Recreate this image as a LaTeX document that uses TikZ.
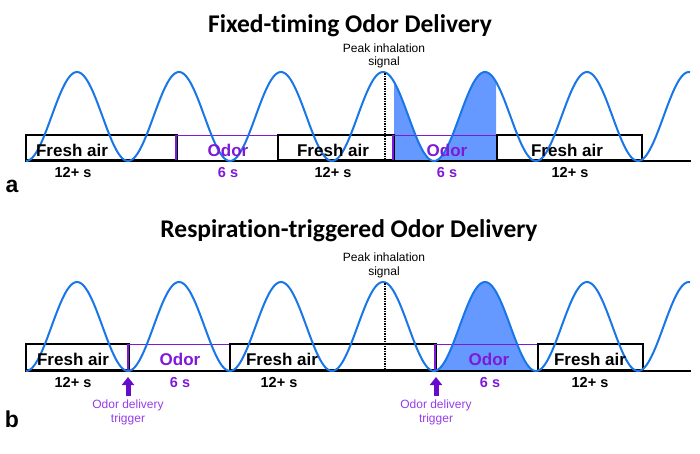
\documentclass[tikz,border=0pt]{standalone}
\usepackage{fontspec}
\setmainfont{Liberation Sans}
\newfontfamily\titlefont[Ligatures=NoCommon]{Carlito}
\usetikzlibrary{arrows.meta}
\definecolor{waveblue}{RGB}{25,118,232}
\definecolor{fillblue}{RGB}{102,153,255}
\definecolor{odorpurple}{RGB}{125,25,215}
\definecolor{trigpurple}{RGB}{150,60,235}
\definecolor{arrowpurple}{RGB}{102,10,204}
\begin{document}
\begin{tikzpicture}[x=1pt,y=-1pt,
  wave/.style={waveblue, line width=2pt},
  airbox/.style={draw=black, line width=1.7pt, minimum height=25pt, inner sep=0pt, anchor=south west},
  odorbox/.style={minimum height=25pt, inner sep=0pt, anchor=south west},
  odoredge/.style={odorpurple, line width=1.7pt},
  baseln/.style={black, line width=1.7pt},
  airtxt/.style={font=\bfseries\fontsize{17}{19}\selectfont, anchor=base, inner sep=0pt},
  odortxt/.style={airtxt, text=odorpurple},
  airdur/.style={font=\bfseries\fontsize{14.5}{16}\selectfont, anchor=base, inner sep=0pt},
  odordur/.style={airdur, text=odorpurple},
  titletxt/.style={font=\titlefont\bfseries\fontsize{25.5}{28}\selectfont, anchor=base, inner sep=0pt},
  peaktxt/.style={font=\fontsize{12}{13.5}\selectfont, align=center, inner sep=0pt},
  trigtxt/.style={font=\fontsize{12}{14}\selectfont, align=center, text=trigpurple, inner sep=0pt, anchor=north},
  trigarrow/.style={arrowpurple, line width=5pt, -{Triangle[width=12pt,length=8pt]}},
  peakline/.style={densely dotted, line width=1.5pt},
  paneltxt/.style={font=\bfseries\fontsize{23}{26}\selectfont, anchor=base, inner sep=0pt},
]
\useasboundingbox (0,0) rectangle (700,453);

% ================= Panel a =================
\node[titletxt] (ta) at (350,32) {Fixed-timing Odor Delivery};
\node[peaktxt] (pa) at (384,56) {Peak inhalation\\signal};

\fill[fillblue] (394,161) -- plot[domain=394:496,samples=120] (\x,{116.5+44.5*cos((\x-26)/102*360)}) -- (496,161) -- cycle;

\node[airbox, minimum width=151pt] (af1) at (25,161) {};
\node[odorbox, minimum width=101pt] (ao1) at (176,161) {};
\node[airbox, minimum width=116pt] (af2) at (277,161) {};
\node[odorbox, minimum width=103pt] (ao2) at (393,161) {};
\node[airbox, minimum width=145pt] (af3) at (496,161) {};
\draw[odoredge] (ao1.south west) -- (ao1.north west) -- (ao1.north east);
\draw[odoredge] (ao2.south west) -- (ao2.north west) -- (ao2.north east);
\coordinate (aend) at (691,161);
\draw[baseln] (af1.south west) -- (aend);

\draw[wave] plot[domain=26:690,samples=400] (\x,{116.5+44.5*cos((\x-26)/102*360)});

\coordinate (apk) at (385,73);
\coordinate (abt) at (385,163);
\draw[peakline] (apk) -- (abt);

\node[airtxt] (laf1) at (72,156) {Fresh air};
\node[odortxt] (lao1) at (228,156) {Odor};
\node[airtxt] (laf2) at (333,156) {Fresh air};
\node[odortxt] (lao2) at (447,156) {Odor};
\node[airtxt] (laf3) at (567,156) {Fresh air};

\node[airdur] (daf1) at (73,177) {12+ s};
\node[odordur] (dao1) at (228,177) {6 s};
\node[airdur] (daf2) at (333,177) {12+ s};
\node[odordur] (dao2) at (447,177) {6 s};
\node[airdur] (daf3) at (570,177) {12+ s};

\node[paneltxt] (pla) at (12,192) {a};

% ================= Panel b =================
\node[titletxt] (tb) at (349,237) {Respiration-triggered Odor Delivery};
\node[peaktxt] (pb) at (384,265.5) {Peak inhalation\\signal};

\fill[fillblue] (434,371) -- plot[domain=434:536,samples=120] (\x,{326.5+44.5*cos((\x-26)/102*360)}) -- (536,371) -- cycle;

\node[airbox, minimum width=103pt, minimum height=26pt] (bf1) at (25,371) {};
\node[odorbox, minimum width=101pt, minimum height=26pt] (bo1) at (128,371) {};
\node[airbox, minimum width=206pt, minimum height=26pt] (bf2) at (229,371) {};
\node[odorbox, minimum width=102pt, minimum height=26pt] (bo2) at (435,371) {};
\node[airbox, minimum width=105pt, minimum height=26pt] (bf3) at (537,371) {};
\draw[odoredge] (bo1.south west) -- (bo1.north west) -- (bo1.north east);
\draw[odoredge] (bo2.south west) -- (bo2.north west) -- (bo2.north east);
\coordinate (bend) at (691,371);
\draw[baseln] (bf1.south west) -- (bend);

\draw[wave] plot[domain=26:690,samples=400] (\x,{326.5+44.5*cos((\x-26)/102*360)});

\coordinate (bpk) at (385,283);
\coordinate (bbt) at (385,371);
\draw[peakline] (bpk) -- (bbt);

\node[airtxt] (lbf1) at (73,365) {Fresh air};
\node[odortxt] (lbo1) at (180,365) {Odor};
\node[airtxt] (lbf2) at (282,365) {Fresh air};
\node[odortxt] (lbo2) at (489,365) {Odor};
\node[airtxt] (lbf3) at (590,365) {Fresh air};

\node[airdur] (dbf1) at (73,387) {12+ s};
\node[odordur] (dbo1) at (180,387) {6 s};
\node[airdur] (dbf2) at (279,387) {12+ s};
\node[odordur] (dbo2) at (490,387) {6 s};
\node[airdur] (dbf3) at (590,387) {12+ s};

\coordinate (tr1b) at (128,396);
\coordinate (tr1t) at (128,377);
\draw[trigarrow] (tr1b) -- (tr1t);
\node[trigtxt] (tg1) at (128,399.5) {Odor delivery\\trigger};
\coordinate (tr2b) at (436,396);
\coordinate (tr2t) at (436,377);
\draw[trigarrow] (tr2b) -- (tr2t);
\node[trigtxt] (tg2) at (436,399.5) {Odor delivery\\trigger};

\node[paneltxt] (plb) at (12,427) {b};
\end{tikzpicture}
\end{document}
